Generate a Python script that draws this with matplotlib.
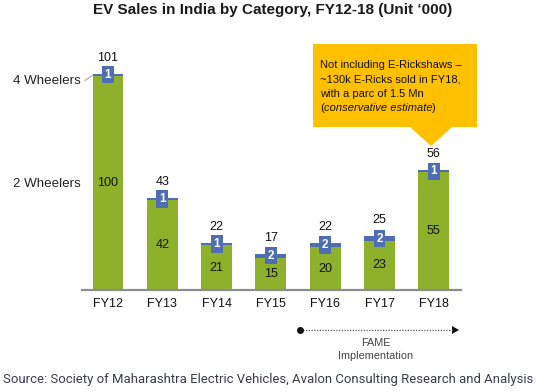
import matplotlib
matplotlib.use("Agg")
import matplotlib.pyplot as plt
from matplotlib.patches import Polygon

categories = ["FY12", "FY13", "FY14", "FY15", "FY16", "FY17", "FY18"]
two_wheelers = [100, 42, 21, 15, 20, 23, 55]
four_wheelers = [1, 1, 1, 2, 2, 2, 1]
totals = [101, 43, 22, 17, 22, 25, 56]
series_labels = ["4 Wheelers", "2 Wheelers"]

GREEN = "#8DB12B"
BLUE = "#4F6DB3"
GOLD = "#FFC000"

W, H = 542, 392
fig = plt.figure(figsize=(W / 100, H / 100), dpi=100)
plt.rcParams["font.family"] = ["Liberation Sans", "DejaVu Sans"]


def fx(x):
    return x / W


def fy(y):
    return 1 - y / H


ax_left, ax_right, ax_base, ax_top = 82, 461, 290, 33
ax = fig.add_axes([fx(ax_left), fy(ax_base), (ax_right - ax_left) / W, (ax_base - ax_top) / H])
ax.set_xlim(-0.479, 6.5)
ax.set_ylim(0, 120)
for s in ax.spines.values():
    s.set_visible(False)
ax.spines["bottom"].set_visible(True)
ax.spines["bottom"].set_color("#8c8c8c")
ax.spines["bottom"].set_linewidth(1.6)
ax.set_yticks([])
ax.tick_params(axis="x", length=0, pad=6, labelsize=9, colors="#111111")
xs = list(range(len(categories)))
ax.set_xticks(xs)
ax.set_xticklabels(categories)

bw = 0.57
ax.bar(xs, two_wheelers, width=bw, color=GREEN, zorder=2)
ax.bar(xs, four_wheelers, width=bw, bottom=two_wheelers, color=BLUE, zorder=2)

for x, tw, fw, t in zip(xs, two_wheelers, four_wheelers, totals):
    ax.text(x, tw / 2, str(tw), ha="center", va="center", fontsize=9, color="#111111", zorder=4)
    ax.text(x, tw + fw / 2, str(fw), ha="center", va="center", fontsize=8.5,
            color="white", fontweight="bold", zorder=5,
            bbox=dict(boxstyle="square,pad=0.22", fc=BLUE, ec="none"))
    ax.annotate(str(t), (x, t), xytext=(0, 11.5), textcoords="offset points",
                ha="center", va="center", fontsize=9, color="#111111", zorder=4)

fig.text(fx(13), fy(81), series_labels[0], ha="left", va="center", fontsize=9.6, color="#222222")
fig.text(fx(13), fy(184), series_labels[1], ha="left", va="center", fontsize=9.6, color="#222222")
fig.add_artist(plt.Line2D([fx(85), fx(93)], [fy(80.5), fy(75)], color="#aaaaaa", lw=0.8))

fig.text(fx(273), fy(10), "EV Sales in India by Category, FY12-18 (Unit \u2018000)",
         ha="center", va="center", fontsize=11, fontweight="bold", color="#1a1a1a")

pts = [(313, 44), (477, 44), (477, 127), (452, 127), (431, 146), (410, 127), (313, 127)]
fig.add_artist(Polygon([(fx(a), fy(b)) for a, b in pts], closed=True, fc=GOLD, ec="none",
                       transform=fig.transFigure))
lines = ["Not including E-Rickshaws \u2013", "~130k E-Ricks sold in FY18,", "with a parc of 1.5 Mn"]
for i, ln in enumerate(lines):
    fig.text(fx(320), fy(65 + 14.3 * i), ln, ha="left", va="center", fontsize=8, color="#111111")
renderer = fig.canvas.get_renderer()
p1 = fig.text(fx(320), fy(108), "(", ha="left", va="center", fontsize=8, color="#111111")
e1 = p1.get_window_extent(renderer)
p2 = fig.text(e1.x1 / W, fy(108), "conservative estimate", ha="left", va="center", fontsize=8,
              style="italic", color="#111111")
e2 = p2.get_window_extent(renderer)
fig.text(e2.x1 / W, fy(108), ")", ha="left", va="center", fontsize=8, color="#111111")

fig.add_artist(plt.Line2D([fx(300), fx(453)], [fy(330), fy(330)], color="#555555", lw=0.9,
                          linestyle=(0, (1, 1.2))))
fig.add_artist(plt.Line2D([fx(300)], [fy(330)], marker="o", markersize=4, color="#111111"))
fig.add_artist(Polygon([(fx(452), fy(326)), (fx(459), fy(330)), (fx(452), fy(334))],
                       closed=True, fc="#111111", ec="none", transform=fig.transFigure))
fig.text(fx(376), fy(343), "FAME", ha="center", va="center", fontsize=7.8, color="#444444")
fig.text(fx(376), fy(356), "Implementation", ha="center", va="center", fontsize=7.8, color="#444444")

fig.text(fx(3), fy(380), "Source: Society of Maharashtra Electric Vehicles, Avalon Consulting Research and Analysis",
         ha="left", va="center", fontsize=9.45, color="#3a3a50", family=["Roboto", "DejaVu Sans"])

fig.savefig("out.png", dpi=100)
